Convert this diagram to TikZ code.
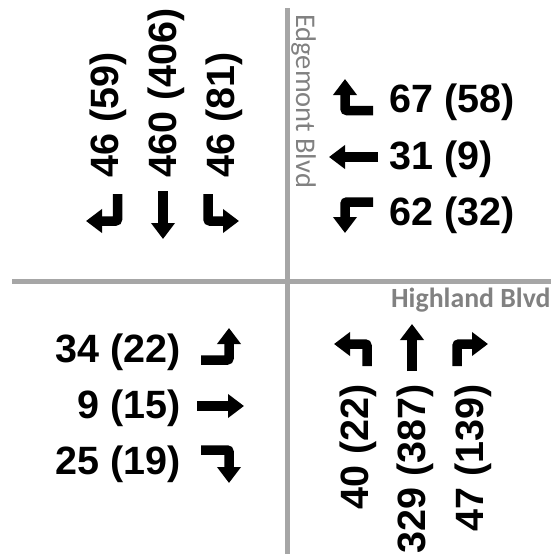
\documentclass[tikz,border=0pt]{standalone}
\usepackage{fontspec}
\setmainfont{Liberation Sans}
\newfontfamily\streetfont{Carlito}
\usetikzlibrary{arrows.meta}
\definecolor{roadgray}{HTML}{A6A6A6}
\definecolor{labelgray}{HTML}{818181}
\begin{document}
\begin{tikzpicture}[x=1pt,y=-1pt,
  roadline/.style={draw=roadgray,line width=5pt},
  mv/.style={line width=9.5pt,-{Triangle[width=23pt,length=16pt]},rounded corners=2pt},
  cnt/.style={font=\fontsize{39.5}{42}\selectfont\bfseries,inner sep=0pt},
  street/.style={text=labelgray,inner sep=0pt}]
\useasboundingbox (0,0) rectangle (551,554);
% roads
\coordinate (vt) at (287,8); \coordinate (vb) at (287,554);
\coordinate (hl) at (12,281); \coordinate (hr) at (551,281);
\draw[roadline] (vt) -- (vb);
\draw[roadline] (hl) -- (hr);
% street names
\node[street,font=\streetfont\bfseries\fontsize{27.8}{30}\selectfont,anchor=base west] (hb) at (391,307) {Highland Blvd};
\node[street,font=\streetfont\fontsize{28.5}{30}\selectfont,rotate=-90,anchor=base west] (eb) at (296,14) {Edgemont Blvd};
% east approach (top right)
\node[cnt,anchor=base west] (e1) at (389,112) {67 (58)};
\node[cnt,anchor=base west] (e2) at (389,169) {31 (9)};
\node[cnt,anchor=base west] (e3) at (389,225) {62 (32)};
\coordinate (e1a) at (373,110.5); \coordinate (e1b) at (345,110.5); \coordinate (e1c) at (345,79);
\draw[mv] (e1a) -- (e1b) -- (e1c);
\coordinate (e2a) at (378,157); \coordinate (e2b) at (329,157);
\draw[mv] (e2a) -- (e2b);
\coordinate (e3a) at (373,202); \coordinate (e3b) at (345,202); \coordinate (e3c) at (345,233);
\draw[mv] (e3a) -- (e3b) -- (e3c);
% west approach (bottom left)
\node[cnt,anchor=base east] (w1) at (181,362) {34 (22)};
\node[cnt,anchor=base east] (w2) at (181,418) {9 (15)};
\node[cnt,anchor=base east] (w3) at (181,474) {25 (19)};
\coordinate (w1a) at (201,360); \coordinate (w1b) at (229,360); \coordinate (w1c) at (229,328);
\draw[mv] (w1a) -- (w1b) -- (w1c);
\coordinate (w2a) at (197,406); \coordinate (w2b) at (244,406);
\draw[mv] (w2a) -- (w2b);
\coordinate (w3a) at (201,450); \coordinate (w3b) at (229,450); \coordinate (w3c) at (229,483);
\draw[mv] (w3a) -- (w3b) -- (w3c);
% south-bound (top left)
\node[cnt,rotate=90,anchor=base west] (s1) at (118,178) {46 (59)};
\node[cnt,rotate=90,anchor=base west] (s2) at (176,178) {460 (406)};
\node[cnt,rotate=90,anchor=base west] (s3) at (234,178) {46 (81)};
\coordinate (s1a) at (117.5,194); \coordinate (s1b) at (117.5,221); \coordinate (s1c) at (86,221);
\draw[mv] (s1a) -- (s1b) -- (s1c);
\coordinate (s2a) at (163,191); \coordinate (s2b) at (163,239);
\draw[mv] (s2a) -- (s2b);
\coordinate (s3a) at (208,194); \coordinate (s3b) at (208,221); \coordinate (s3c) at (239,221);
\draw[mv] (s3a) -- (s3b) -- (s3c);
% north-bound (bottom right)
\node[cnt,rotate=90,anchor=base east] (n1) at (368,384) {40 (22)};
\node[cnt,rotate=90,anchor=base east] (n2) at (425,384) {329 (387)};
\node[cnt,rotate=90,anchor=base east] (n3) at (483,384) {47 (139)};
\coordinate (n1a) at (367,366); \coordinate (n1b) at (367,344); \coordinate (n1c) at (334,344);
\draw[mv] (n1a) -- (n1b) -- (n1c);
\coordinate (n2a) at (412,371); \coordinate (n2b) at (412,324);
\draw[mv] (n2a) -- (n2b);
\coordinate (n3a) at (457,366); \coordinate (n3b) at (457,344); \coordinate (n3c) at (488,344);
\draw[mv] (n3a) -- (n3b) -- (n3c);
\end{tikzpicture}
\end{document}
